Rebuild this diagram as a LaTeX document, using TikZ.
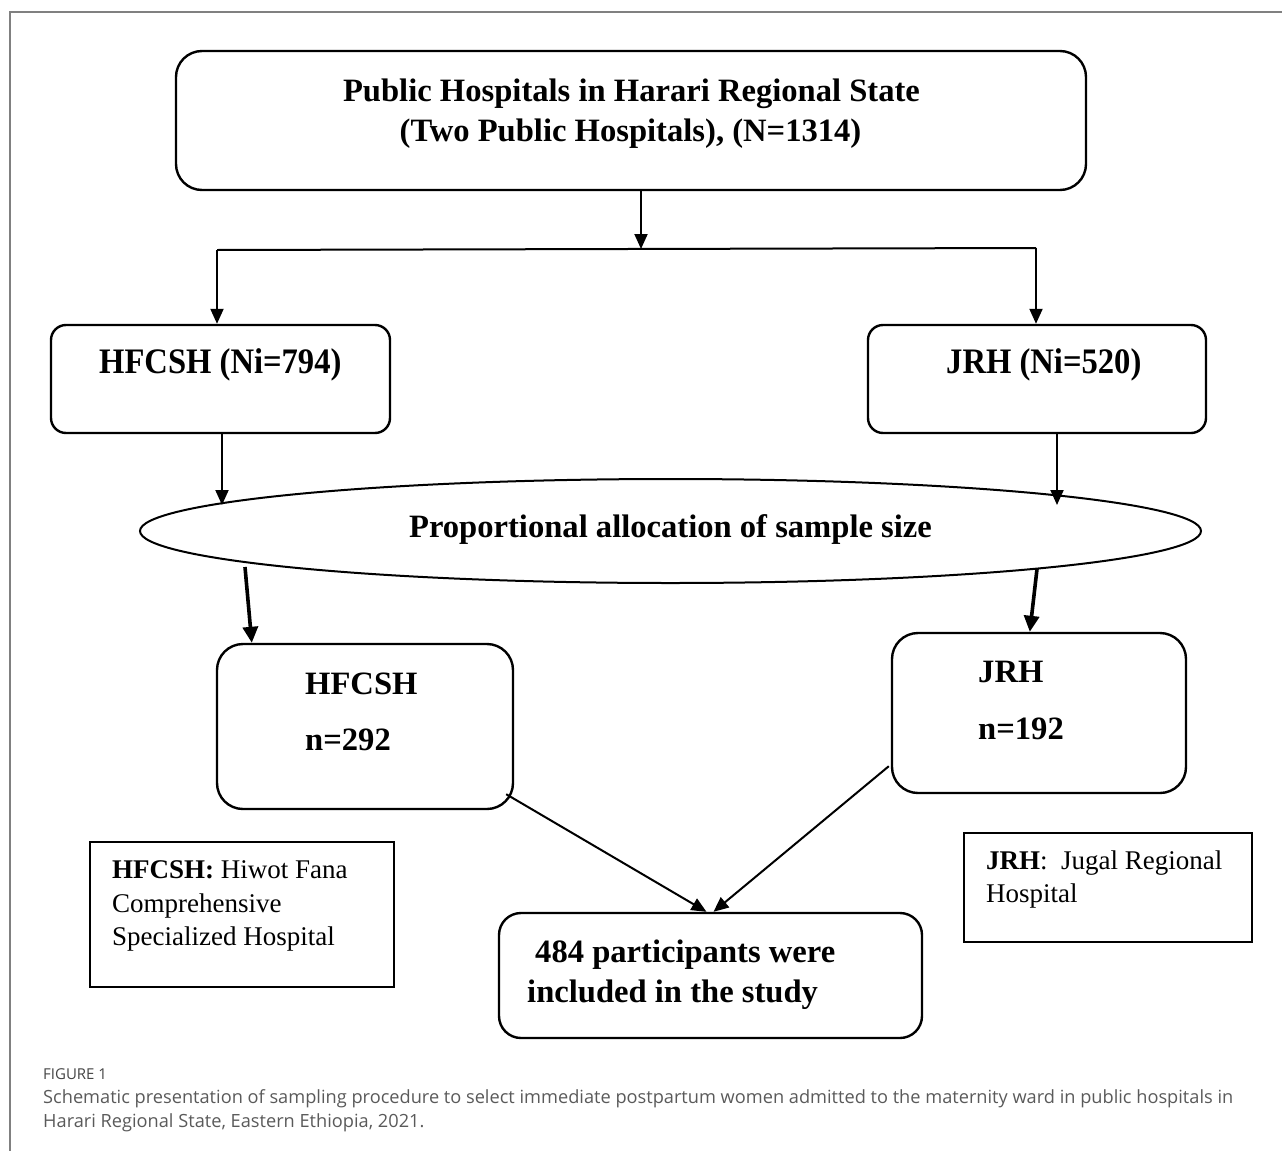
\documentclass[tikz,border=0pt]{standalone}
\usepackage{fontspec}
\setmainfont{Liberation Serif}
\newfontfamily\capfont{Open Sans}
\usetikzlibrary{arrows.meta,shapes.geometric,calc}
\definecolor{capgray}{HTML}{5A5A5A}
\definecolor{figgray}{HTML}{444444}
\definecolor{framegray}{HTML}{808080}
\begin{document}
\begin{tikzpicture}[x=1pt,y=-1pt,
  rbox/.style={draw, line width=2.4pt, rounded corners=#1, inner sep=0pt},
  sbox/.style={draw, line width=2.4pt, inner sep=0pt},
  arr/.style={line width=2pt, -{Triangle[length=15pt,width=13pt]}},
  tarr/.style={line width=3.6pt, -{Triangle[length=16pt,width=15pt]}},
  bt/.style={inner sep=0pt, font=\fontsize{32.6}{39}\selectfont\bfseries},
  rt/.style={inner sep=0pt, font=\fontsize{27}{33}\selectfont},
  ct/.style={inner sep=0pt, font=\capfont\fontsize{18.2}{22}\selectfont, text=capgray}
]
\useasboundingbox (0,0) rectangle (1282,1151);
% frame
\draw[framegray, line width=1.2pt] (1282,12) -- (10,12) -- (10,1151);

% boxes
\node[rbox=26pt, minimum width=910pt, minimum height=139pt] (top) at (631,120.5) {};
\node[rbox=15pt, minimum width=339pt, minimum height=108pt] (hf) at (220.5,379) {};
\node[rbox=15pt, minimum width=338pt, minimum height=108pt] (jr) at (1037,379) {};
\node[draw, ellipse, line width=2pt, inner sep=0pt, minimum width=1061pt, minimum height=104pt] (ell) at (670.5,531) {};
\node[rbox=26pt, minimum width=296pt, minimum height=165pt] (hn) at (365,726.5) {};
\node[rbox=26pt, minimum width=294pt, minimum height=160pt] (jn) at (1039,713) {};
\node[rbox=22pt, minimum width=423pt, minimum height=125pt] (fin) at (710.5,975.5) {};
\node[sbox, minimum width=304pt, minimum height=145pt] (lgL) at (242,914.5) {};
\node[sbox, minimum width=288pt, minimum height=109pt] (lgR) at (1108,887.5) {};

% texts
\node[bt, anchor=base] (t1) at (631.5,101) {Public Hospitals in Harari Regional State};
\node[bt, anchor=base] (t2) at (630.5,141) {(Two Public Hospitals), (N=1314)};
\node[bt, anchor=base west] (hft) at (99,373) {\scalebox{1}[1.1]{HFCSH (Ni=794)}};
\node[bt, anchor=base west] (jrt) at (946,373) {\scalebox{1}[1.1]{JRH (Ni=520)}};
\node[bt, anchor=base] (et) at (670.5,537) {Proportional allocation of sample size};
\node[bt, anchor=base west] (hn1) at (305,694) {HFCSH};
\node[bt, anchor=base west] (hn2) at (305,750) {n=292};
\node[bt, anchor=base west] (jn1) at (978,682) {JRH};
\node[bt, anchor=base west] (jn2) at (978,739) {n=192};
\node[bt, anchor=base west] (f1) at (535,962) {484 participants were};
\node[bt, anchor=base west] (f2) at (527,1002) {included in the study};
\node[rt, anchor=base west] (l1) at (112,878) {\textbf{HFCSH:} Hiwot Fana};
\node[rt, anchor=base west] (l2) at (112,912) {Comprehensive};
\node[rt, anchor=base west] (l3) at (112,945) {Specialized Hospital};
\node[rt, anchor=base west] (r1) at (986,869) {\textbf{JRH}:\ \ Jugal Regional};
\node[rt, anchor=base west] (r2) at (986,902) {Hospital};

% caption
\node[ct, anchor=base west, font=\capfont\fontsize{15}{17}\selectfont, text=figgray] (fig) at (43,1079) {FIGURE 1};
\node[ct, anchor=base west] (c1) at (43,1103) {Schematic presentation of sampling procedure to select immediate postpartum women admitted to the maternity ward in public hospitals in};
\node[ct, anchor=base west] (c2) at (43,1127) {Harari Regional State, Eastern Ethiopia, 2021.};

% connectors
\coordinate (barM) at (641,249);
\coordinate (barL) at (217,250);
\coordinate (barR) at (1036,248);
\draw[arr] (top.south -| barM) -- (barM);
\draw[line width=2pt] (barL) -- (barR);
\draw[arr] (barL) -- (barL |- hf.north);
\draw[arr] (barR) -- (barR |- jr.north);

\coordinate (e1) at (222,505);
\coordinate (e2) at (1057,505);
\draw[arr] (hf.south -| e1) -- (e1);
\draw[arr] (jr.south -| e2) -- (e2);

\coordinate (s1) at (245,567);
\coordinate (s2) at (1037,569);
\draw[tarr] (s1) -- ($(hn.north west)+(36,0)$);
\draw[tarr] (s2) -- ($(jn.north west)+(139,0)$);

\draw[arr] ($(hn.south east)+(-8,-16)$) -- ($(fin.north)+(-4,0)$);
\draw[arr] ($(jn.south west)+(-2,-28)$) -- ($(fin.north)+(3,0)$);
\end{tikzpicture}
\end{document}
